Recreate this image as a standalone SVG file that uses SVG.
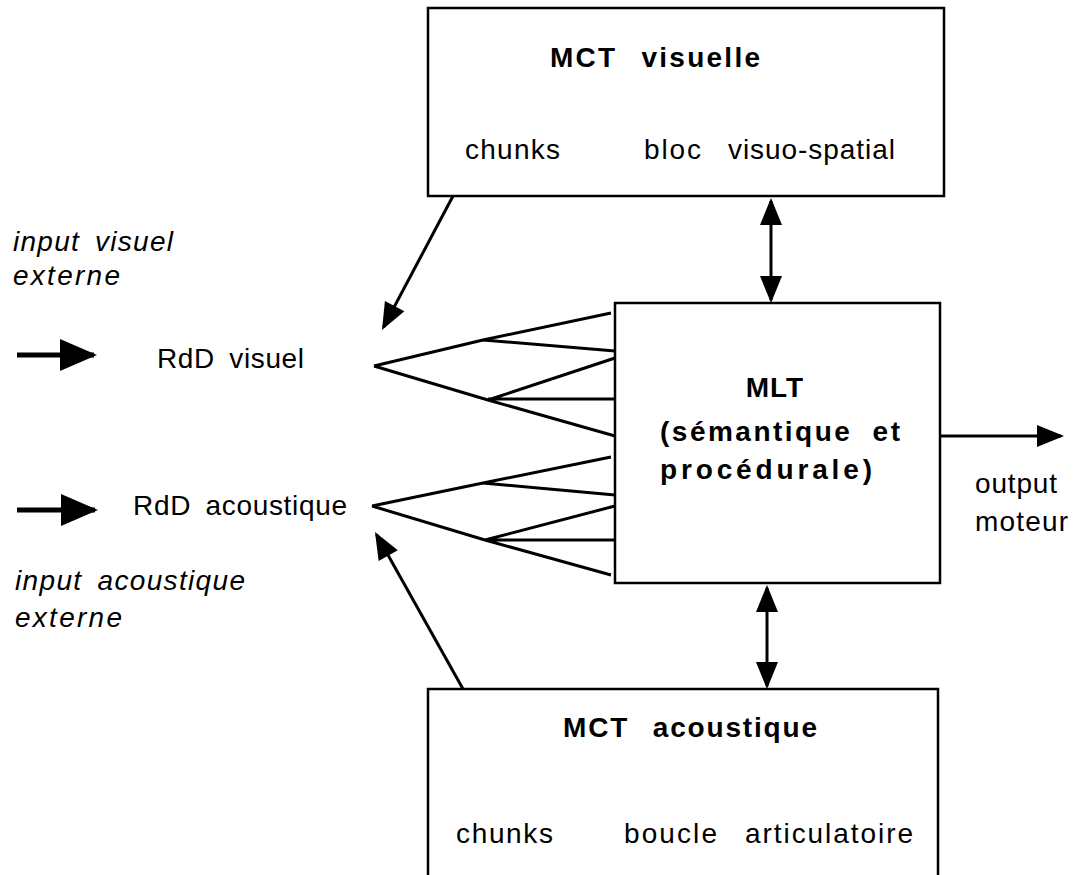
<svg xmlns="http://www.w3.org/2000/svg" width="1083" height="875" viewBox="0 0 1083 875">
<style>
.box{fill:#fff;stroke:#000;stroke-width:2.5}
.t{font-family:"Liberation Sans",Arial,sans-serif;font-size:28px;fill:#000}
.b{font-weight:bold}
.i{font-style:italic}
.ln{fill:none;stroke:#000;stroke-width:3;stroke-linejoin:miter}
.thk{fill:none;stroke:#000;stroke-width:5}
</style>
<defs>
<marker id="ah" markerUnits="userSpaceOnUse" markerWidth="30" markerHeight="24" viewBox="0 -12 28 24" refX="24" refY="0" orient="auto-start-reverse">
<path d="M0,-11 L27,0 L0,11 z" fill="#000"/>
</marker>
<marker id="ahb" markerUnits="userSpaceOnUse" markerWidth="40" markerHeight="34" viewBox="0 -17 38 34" refX="34" refY="0" orient="auto">
<path d="M0,-16 L37,0 L0,16 z" fill="#000"/>
</marker>
</defs>

<g id="mct-visuelle">
<rect class="box" x="428" y="8" width="516" height="188"/>
<text class="t b" x="550" y="67" textLength="210" lengthAdjust="spacing" word-spacing="14">MCT visuelle</text>
<text class="t" x="465" y="159" textLength="95" lengthAdjust="spacing">chunks</text>
<text class="t" x="644" y="159" textLength="57" lengthAdjust="spacing">bloc</text>
<text class="t" x="728" y="159" textLength="167" lengthAdjust="spacing">visuo-spatial</text>
</g>

<g id="mlt">
<rect class="box" x="615" y="303" width="325" height="280"/>
<text class="t b" x="775" y="397" text-anchor="middle" letter-spacing="1">MLT</text>
<text class="t b" x="660" y="441" textLength="240" lengthAdjust="spacing" word-spacing="10">(sémantique et</text>
<text class="t b" x="660" y="479" textLength="212" lengthAdjust="spacing">procédurale)</text>
</g>

<g id="mct-acoustique">
<rect class="box" x="428" y="689" width="510" height="210"/>
<text class="t b" x="563" y="737" textLength="254" lengthAdjust="spacing" word-spacing="14">MCT acoustique</text>
<text class="t" x="456" y="843" textLength="97" lengthAdjust="spacing">chunks</text>
<text class="t" x="624" y="843" textLength="93" lengthAdjust="spacing">boucle</text>
<text class="t" x="745" y="843" textLength="168" lengthAdjust="spacing">articulatoire</text>
</g>

<g id="rdd-visuel">
<text class="t" x="157" y="368" textLength="147" lengthAdjust="spacing" word-spacing="6">RdD visuel</text>
</g>

<g id="rdd-acoustique">
<text class="t" x="133" y="515" textLength="214" lengthAdjust="spacing" word-spacing="6">RdD acoustique</text>
</g>

<g id="input-visuel">
<text class="t i" x="13" y="251" textLength="160" lengthAdjust="spacing" word-spacing="6">input visuel</text>
<text class="t i" x="13" y="285" textLength="107" lengthAdjust="spacing">externe</text>
</g>

<g id="input-acoustique">
<text class="t i" x="15" y="590" textLength="230" lengthAdjust="spacing" word-spacing="6">input acoustique</text>
<text class="t i" x="15" y="627" textLength="107" lengthAdjust="spacing">externe</text>
</g>

<g id="output-moteur">
<text class="t" x="975" y="493" textLength="82" lengthAdjust="spacing">output</text>
<text class="t" x="975" y="531" textLength="93" lengthAdjust="spacing">moteur</text>
</g>

<g id="connectors">
<line class="thk" x1="17" y1="355" x2="94" y2="355" marker-end="url(#ahb)"/>
<line class="thk" x1="17" y1="510" x2="95" y2="510" marker-end="url(#ahb)"/>
<line class="ln" x1="453" y1="196" x2="383.4" y2="327.3" marker-end="url(#ah)"/>
<line class="ln" x1="463" y1="689" x2="376.5" y2="534.6" marker-end="url(#ah)"/>
<line class="ln" x1="771" y1="201" x2="771" y2="300" marker-start="url(#ah)" marker-end="url(#ah)"/>
<line class="ln" x1="767" y1="588" x2="767" y2="686" marker-start="url(#ah)" marker-end="url(#ah)"/>
<line class="ln" x1="940" y1="436" x2="1061" y2="436" marker-end="url(#ah)"/>
<path class="ln" d="M374,366 L483,340 L611,313 M483,340 L615,351 M374,366 L488,400 L615,436 M488,400 L615,358 M488,399 L615,399"/>
<path class="ln" d="M372,506 L483,483 L611,457 M483,483 L615,495 M372,506 L485,540 L611,575 M485,540 L615,506 M485,540 L615,540"/>
</g>
</svg>
